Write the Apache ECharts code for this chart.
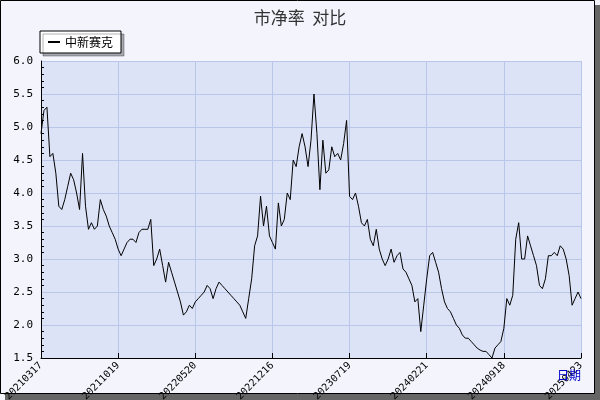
<!DOCTYPE html>
<html><head><meta charset="utf-8">
<script src="https://cdn.jsdelivr.net/npm/echarts@6/dist/echarts.min.js"></script>
<style>html,body{margin:0;padding:0;background:#fff}#c{width:600px;height:400px}</style>
</head><body><div id="c"></div>
<script>
var tickDates = ['20210317','20211019','20220520','20221216','20230719','20240221','20240918','20250423'];
var seriesName = '中新赛克';
var values = [
4.9,5.25,5.3,4.55,4.6,4.3,3.8,3.75,3.9,4.1,4.3,4.2,4.0,3.75,4.6,3.8,3.45,3.55,3.45,3.5,3.9,3.75,3.65,3.5,3.4,3.3,
3.15,3.05,3.15,3.25,3.3,3.3,3.25,3.4,3.45,3.45,3.45,3.6,2.9,3.0,3.15,2.9,2.65,2.95,2.8,2.65,2.5,2.35,2.15,2.2,2.3,2.25,
2.35,2.4,2.45,2.5,2.6,2.55,2.4,2.55,2.65,2.6,2.55,2.5,2.45,2.4,2.35,2.3,2.2,2.1,2.4,2.7,3.2,3.35,3.95,3.5,3.8,3.35,
3.25,3.15,3.85,3.5,3.6,4.0,3.9,4.5,4.4,4.7,4.9,4.7,4.4,4.8,5.5,4.9,4.05,4.8,4.3,4.35,4.7,4.55,4.6,4.5,4.75,5.1,
3.95,3.9,4.0,3.8,3.55,3.5,3.6,3.3,3.2,3.45,3.15,3.0,2.9,3.0,3.15,2.95,3.05,3.1,2.85,2.8,2.7,2.6,2.35,2.4,1.9,2.3,
2.7,3.05,3.1,2.95,2.8,2.55,2.35,2.25,2.2,2.1,2.0,1.95,1.85,1.8,1.8,1.75,1.7,1.65,1.62,1.6,1.6,1.55,1.5,1.65,1.7,1.75,
1.95,2.4,2.3,2.45,3.3,3.55,3.0,3.0,3.35,3.2,3.05,2.9,2.6,2.55,2.7,3.05,3.05,3.1,3.05,3.2,3.15,3.0,2.75,2.3,2.4,2.5,
2.4
];
var perSeg = 26;
function toD(s){return new Date(+s.slice(0,4), +s.slice(4,6)-1, +s.slice(6,8));}
function fmt(d){var m=d.getMonth()+1, dd=d.getDate();return ''+d.getFullYear()+(m<10?'0':'')+m+(dd<10?'0':'')+dd;}
var cats = [];
for (var i=0;i<values.length;i++){
  var s=Math.floor(i/perSeg), k=i%perSeg;
  if (s>=tickDates.length-1){s=tickDates.length-2;k=i-s*perSeg;}
  if (k===0){cats.push(tickDates[s]);continue;}
  var a=toD(tickDates[s]).getTime(), b=toD(tickDates[s+1]).getTime();
  cats.push(fmt(new Date(a+(b-a)*k/perSeg)));
}
var chart = echarts.init(document.getElementById('c'));
chart.setOption({
  animation:false,
  backgroundColor:'#f3f4fc',
  title:{text:'市净率  对比',left:'center',top:4,textStyle:{fontSize:17,fontWeight:'normal',color:'#333',fontFamily:'Noto Sans CJK SC'}},
  legend:{left:40,top:31,itemWidth:12,itemHeight:2,icon:'rect',backgroundColor:'#fff',borderColor:'#000',borderWidth:1,borderRadius:0,padding:[5,8,5,8],
    shadowColor:'rgba(0,0,0,0.3)',shadowOffsetX:3,shadowOffsetY:3,shadowBlur:0,
    textStyle:{fontSize:12,color:'#000',fontFamily:'Noto Sans CJK SC'},data:[seriesName]},
  grid:{left:41,right:19,top:61,bottom:42,outerBoundsMode:'none',containLabel:false},
  xAxis:{type:'category',data:cats,boundaryGap:false,
    axisLine:{lineStyle:{color:'#000'}},
    axisTick:{interval:perSeg-1,inside:true,length:5,lineStyle:{color:'#000'}},
    axisLabel:{interval:perSeg-1,rotate:45,fontSize:10,color:'#000',fontFamily:'DejaVu Sans Mono',margin:6},
    splitLine:{show:true,interval:perSeg-1,lineStyle:{color:'#b9c5e9'}}},
  yAxis:{type:'value',min:1.5,max:6,interval:0.5,
    axisLine:{show:true,lineStyle:{color:'#000'}},
    axisTick:{inside:true,length:6,lineStyle:{color:'#000'}},
    minorTick:{show:true,splitNumber:5,length:3,lineStyle:{color:'#000'}},
    axisLabel:{fontSize:11,color:'#000',fontFamily:'DejaVu Sans Mono',formatter:function(v){return v.toFixed(1);}},
    splitLine:{lineStyle:{color:'#b9c5e9'}}},
  series:[{name:seriesName,type:'line',data:values,symbol:'none',lineStyle:{color:'#000',width:1},itemStyle:{color:'#000'},
    markArea:{silent:true,itemStyle:{color:'#dde3f7'},data:[[{xAxis:0,yAxis:1.5},{xAxis:values.length-1,yAxis:6}]],z:-1}}],
  graphic:[
    {type:'rect',shape:{x:5,y:5,width:596,height:396},style:{fill:'#666'},z:-10},
    {type:'rect',shape:{x:0.5,y:0.5,width:594,height:393},style:{fill:'#f3f4fc',stroke:'#000',lineWidth:1},z:-9},
    {type:'text',left:557,top:369,style:{text:'日期',fill:'#0000cc',fontSize:12,fontFamily:'Noto Sans CJK SC'},z:10}
  ]
});
</script></body></html>
